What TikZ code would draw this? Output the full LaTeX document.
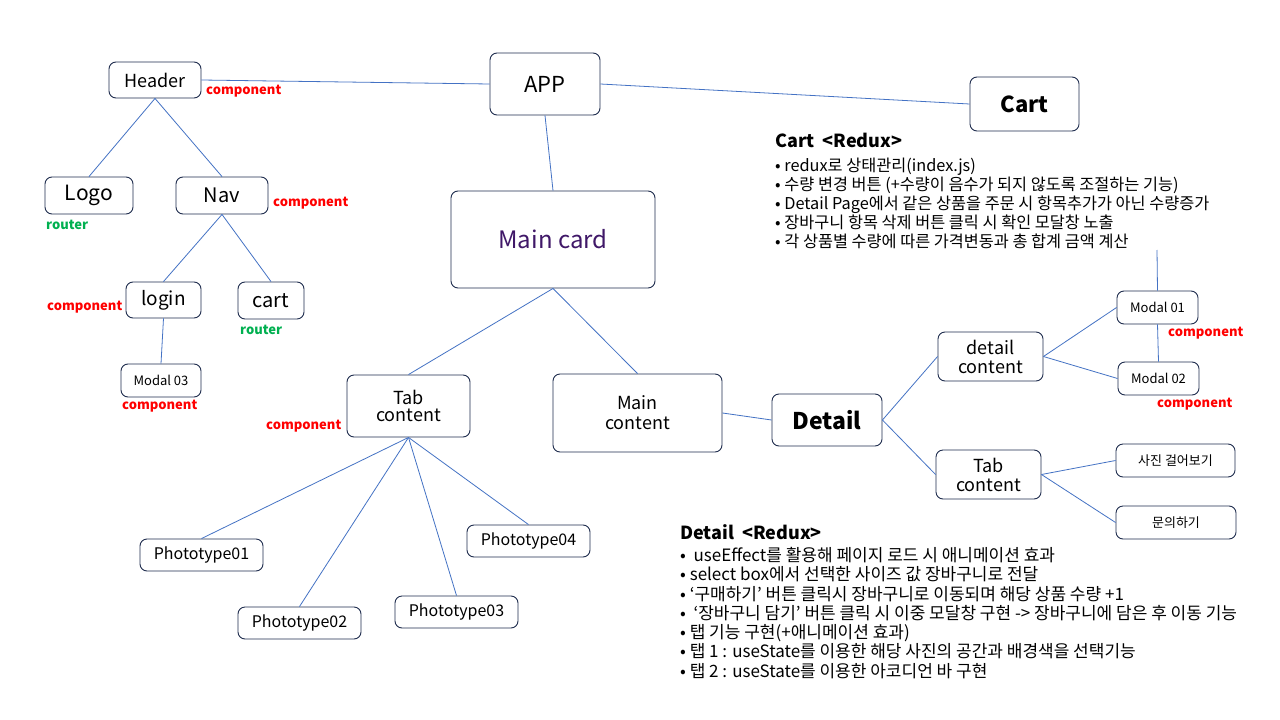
\documentclass[tikz,border=0pt]{standalone}
\usepackage{fontspec}
\setmainfont{Noto Sans CJK KR}
\definecolor{boxc}{RGB}{31,45,78}
\definecolor{linec}{RGB}{68,114,196}
\definecolor{compc}{RGB}{255,0,0}
\definecolor{routc}{RGB}{0,176,80}
\definecolor{purp}{RGB}{64,24,104}
\newcommand{\fs}[1]{\fontsize{#1}{#1}\selectfont}
\begin{document}
\begin{tikzpicture}[x=1pt,y=-1pt,
  box/.style={draw=boxc, line width=0.9pt, rounded corners=7pt, align=center, inner sep=0pt, fill=white},
  edge/.style={draw=linec, line width=0.8pt},
  comp/.style={text=compc, font=\fs{13}\bfseries, anchor=west, inner sep=0pt},
  rout/.style={text=routc, font=\fs{13}\bfseries, anchor=west, inner sep=0pt},
  txt/.style={anchor=north west, align=left, inner sep=0pt}]
\useasboundingbox (0,0) rectangle (1280,720);
\fill[white] (0,0) rectangle (1280,720);

% nodes
\node[box, minimum width=92pt, minimum height=36pt, font=\fs{18}] (header) at (155,80) {Header};
\node[box, minimum width=110pt, minimum height=62pt, font=\fs{22}] (app) at (545,84) {APP};
\node[box, minimum width=109pt, minimum height=54pt, font=\fs{22}\bfseries] (cart) at (1024.5,104) {Cart};
\node[box, minimum width=88pt, minimum height=37pt, font=\fs{21}] (logo) at (89,195.5) {Logo};
\node[box, minimum width=92pt, minimum height=37pt, font=\fs{20}] (nav) at (222,195.5) {Nav};
\node[box, minimum width=75pt, minimum height=36pt, font=\fs{19}] (login) at (163.5,300) {login};
\node[box, minimum width=66pt, minimum height=37pt, font=\fs{20}] (cartr) at (271,300.5) {cart};
\node[box, minimum width=80pt, minimum height=33pt, font=\fs{13}] (modal3) at (161,380.5) {Modal 03};
\node[box, minimum width=204pt, minimum height=97pt, font=\fs{24}, text=purp] (maincard) at (553,239.5) {Main card};
\node[box, minimum width=123pt, minimum height=62pt, font=\fs{18}] (tabl) at (408.5,406) {Tab\\[-1pt]content};
\node[box, minimum width=169pt, minimum height=78pt, font=\fs{18}] (mainc) at (637.5,413) {Main\\[2pt]content};
\node[box, minimum width=110pt, minimum height=52pt, font=\fs{23}\bfseries] (detail) at (827,420) {Detail};
\node[box, minimum width=105pt, minimum height=49pt, font=\fs{18}] (detc) at (990.5,356.5) {detail\\[1pt]content};
\node[box, minimum width=81pt, minimum height=33pt, font=\fs{13}] (modal1) at (1157.5,307.5) {Modal 01};
\node[box, minimum width=81pt, minimum height=33pt, font=\fs{13}] (modal2) at (1158.5,378.5) {Modal 02};
\node[box, minimum width=105pt, minimum height=49pt, font=\fs{18}] (tabr) at (988.5,474.5) {Tab\\[1pt]content};
\node[box, minimum width=119pt, minimum height=33pt, font=\fs{13}] (photo) at (1175.5,460.5) {사진 걸어보기};
\node[box, minimum width=120pt, minimum height=33pt, font=\fs{13}] (qna) at (1176,522.5) {문의하기};
\node[box, minimum width=123pt, minimum height=32pt, font=\fs{16}] (p1) at (201.5,555) {Phototype01};
\node[box, minimum width=123pt, minimum height=32pt, font=\fs{16}] (p2) at (299.5,623) {Phototype02};
\node[box, minimum width=123pt, minimum height=32pt, font=\fs{16}] (p3) at (456.5,612) {Phototype03};
\node[box, minimum width=123pt, minimum height=32pt, font=\fs{16}] (p4) at (528.5,541) {Phototype04};
\coordinate (cartend) at (1157,250);

% edges
\draw[edge] (header.east) -- (app.west);
\draw[edge] (app.east) -- (cart.west);
\draw[edge] (app.south) -- (maincard.north);
\draw[edge] (header.south) -- (logo.north);
\draw[edge] (header.south) -- (nav.north);
\draw[edge] (nav.south) -- (login.north);
\draw[edge] (nav.south) -- (cartr.north);
\draw[edge] (login.south) -- (modal3.north);
\draw[edge] (maincard.south) -- (tabl.north);
\draw[edge] (maincard.south) -- (mainc.north);
\draw[edge] (tabl.south) -- (p1.north);
\draw[edge] (tabl.south) -- (p2.north);
\draw[edge] (tabl.south) -- (p3.north);
\draw[edge] (tabl.south) -- (p4.north);
\draw[edge] (mainc.east) -- (detail.west);
\draw[edge] (detail.east) -- (detc.west);
\draw[edge] (detail.east) -- (tabr.west);
\draw[edge] (detc.east) -- (modal1.west);
\draw[edge] (detc.east) -- (modal2.west);
\draw[edge] (modal1.south) -- (modal2.north);
\draw[edge] (modal1.north) -- (cartend);
\draw[edge] (tabr.east) -- (photo.west);
\draw[edge] (tabr.east) -- (qna.west);

% labels
\node[comp] (lh) at (206,91) {component};
\node[comp] (ln) at (273,203) {component};
\node[rout] (llogo) at (46,225) {router};
\node[comp] (llogin) at (47,307) {component};
\node[rout] (lcart) at (240,330) {router};
\node[comp] (lm3) at (122,406) {component};
\node[comp] (ltab) at (266,426) {component};
\node[comp] (lm1) at (1168,333) {component};
\node[comp] (lm2) at (1157,404) {component};

% text blocks
\node[txt, font=\fs{18}\bfseries] (carth) at (775,133) {Cart\ \ <Redux>};
\node[txt, font=\fontsize{16.3}{19}\selectfont] (cartt) at (775,158) {%
• redux로 상태관리(index.js)\\
• 수량 변경 버튼 (+수량이 음수가 되지 않도록 조절하는 기능)\\
• Detail Page에서 같은 상품을 주문 시 항목추가가 아닌 수량증가\\
• 장바구니 항목 삭제 버튼 클릭 시 확인 모달창 노출\\
• 각 상품별 수량에 따른 가격변동과 총 합계 금액 계산};
\node[txt, font=\fs{18}\bfseries] (deth) at (680,524) {Detail\ \ <Redux>};
\node[txt, font=\fontsize{17}{19.3}\selectfont] (dett) at (680,547) {%
•\ \ useEffect를 활용해 페이지 로드 시 애니메이션 효과\\
• select box에서 선택한 사이즈 값 장바구니로 전달\\
• ‘구매하기’ 버튼 클릭시 장바구니로 이동되며 해당 상품 수량 +1\\
•\ \ ‘장바구니 담기’ 버튼 클릭 시 이중 모달창 구현 -> 장바구니에 담은 후 이동 기능\\
• 탭 기능 구현(+애니메이션 효과)\\
• 탭 1 : useState를 이용한 해당 사진의 공간과 배경색을 선택기능\\
• 탭 2 : useState를 이용한 아코디언 바 구현};
\end{tikzpicture}
\end{document}
